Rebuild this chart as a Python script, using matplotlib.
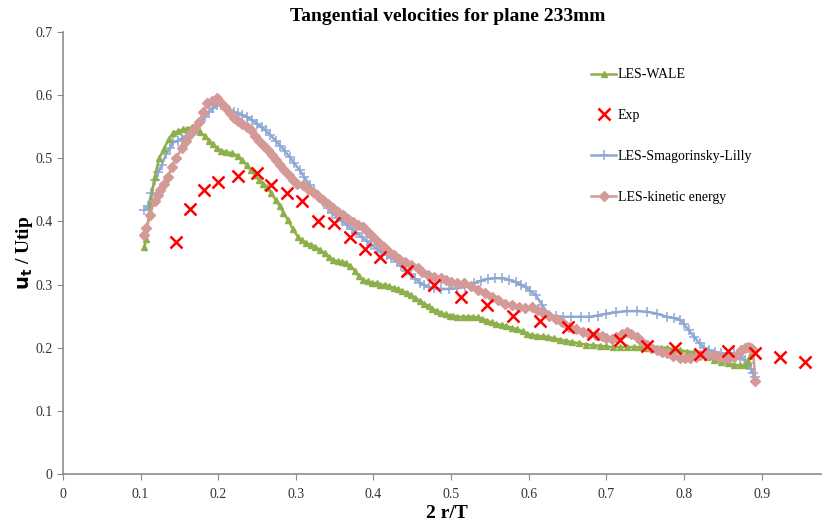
import matplotlib
matplotlib.use("Agg")
import matplotlib.pyplot as plt

plt.rcParams['font.family'] = ['Liberation Serif', 'DejaVu Serif']

# LES-WALE
wale_x = [0.105, 0.107, 0.113, 0.118, 0.124, 0.13, 0.136, 0.142, 0.148, 0.155, 0.16, 0.166,
          0.172, 0.177, 0.183, 0.188, 0.193, 0.198, 0.204, 0.21, 0.218, 0.225, 0.231, 0.237,
          0.242, 0.248, 0.253, 0.258, 0.263, 0.268, 0.274, 0.279, 0.284, 0.29, 0.296, 0.303,
          0.308, 0.313, 0.319, 0.325, 0.331, 0.337, 0.343, 0.348, 0.354, 0.36, 0.365, 0.37,
          0.376, 0.381, 0.387, 0.393, 0.398, 0.404, 0.409, 0.415, 0.42, 0.426, 0.431, 0.437,
          0.443, 0.448, 0.454, 0.46, 0.465, 0.471, 0.476, 0.482, 0.487, 0.493, 0.498, 0.503,
          0.508, 0.515, 0.522, 0.528, 0.534, 0.54, 0.546, 0.552, 0.558, 0.565, 0.571, 0.578,
          0.585, 0.592, 0.598, 0.604, 0.611, 0.618, 0.625, 0.632, 0.64, 0.648, 0.656, 0.665,
          0.674, 0.683, 0.692, 0.7, 0.709, 0.718, 0.726, 0.735, 0.743, 0.752, 0.761, 0.77,
          0.778, 0.786, 0.795, 0.804, 0.813, 0.822, 0.83, 0.839, 0.847, 0.856, 0.865, 0.872,
          0.878, 0.882, 0.885, 0.889]
wale_y = [0.36, 0.372, 0.43, 0.47, 0.5, 0.515, 0.53, 0.54, 0.543, 0.546, 0.547, 0.549,
          0.546, 0.541, 0.535, 0.528, 0.522, 0.516, 0.512, 0.51, 0.508, 0.504, 0.497, 0.489,
          0.481, 0.473, 0.465, 0.46, 0.454, 0.445, 0.434, 0.425, 0.414, 0.402, 0.388, 0.375,
          0.37, 0.366, 0.363, 0.36, 0.355, 0.35, 0.344, 0.339, 0.337, 0.336, 0.334, 0.33,
          0.322, 0.313, 0.307, 0.305, 0.303, 0.302, 0.3, 0.299, 0.297, 0.295, 0.293, 0.29,
          0.287, 0.283, 0.279, 0.274, 0.27, 0.266, 0.262, 0.258, 0.255, 0.253, 0.251, 0.25,
          0.249, 0.249, 0.249, 0.249, 0.248, 0.246, 0.243, 0.24, 0.238, 0.236, 0.234, 0.232,
          0.229, 0.226, 0.222, 0.22, 0.219, 0.218, 0.217, 0.215, 0.213, 0.211, 0.209, 0.207,
          0.205, 0.204, 0.203, 0.202, 0.201, 0.201, 0.201, 0.201, 0.201, 0.2, 0.2, 0.2,
          0.2, 0.198, 0.196, 0.194, 0.193, 0.19, 0.185, 0.18, 0.177, 0.175, 0.173, 0.172,
          0.172, 0.178, 0.187, 0.2]

# Experiment
exp_x = [0.145, 0.163, 0.182, 0.2, 0.225, 0.25, 0.268, 0.288, 0.308, 0.329, 0.349, 0.37,
         0.389, 0.409, 0.443, 0.478, 0.513, 0.546, 0.58, 0.615, 0.65, 0.683, 0.718, 0.752,
         0.788, 0.821, 0.856, 0.891, 0.924, 0.956]
exp_y = [0.368, 0.42, 0.45, 0.463, 0.472, 0.477, 0.458, 0.445, 0.433, 0.401, 0.397, 0.375,
         0.356, 0.344, 0.321, 0.299, 0.28, 0.267, 0.25, 0.242, 0.233, 0.221, 0.212, 0.202,
         0.199, 0.19, 0.195, 0.191, 0.186, 0.178]

# LES-Smagorinsky-Lilly
smag_x = [0.105, 0.11, 0.114, 0.118, 0.123, 0.127, 0.133, 0.138, 0.142, 0.148, 0.153, 0.159,
          0.166, 0.171, 0.177, 0.183, 0.188, 0.193, 0.198, 0.204, 0.209, 0.214, 0.22, 0.225,
          0.231, 0.237, 0.244, 0.25, 0.256, 0.261, 0.267, 0.274, 0.28, 0.286, 0.292, 0.298,
          0.305, 0.311, 0.318, 0.324, 0.33, 0.335, 0.341, 0.347, 0.353, 0.36, 0.366, 0.372,
          0.378, 0.385, 0.391, 0.397, 0.404, 0.41, 0.417, 0.423, 0.43, 0.436, 0.442, 0.448,
          0.454, 0.46, 0.465, 0.471, 0.478, 0.487, 0.497, 0.508, 0.518, 0.53, 0.538, 0.547,
          0.556, 0.565, 0.574, 0.583, 0.59, 0.596, 0.602, 0.609, 0.617, 0.626, 0.635, 0.644,
          0.655, 0.667, 0.678, 0.689, 0.7, 0.713, 0.726, 0.739, 0.752, 0.765, 0.778, 0.787,
          0.795, 0.8, 0.806, 0.813, 0.82, 0.826, 0.832, 0.84, 0.847, 0.856, 0.865, 0.872,
          0.878, 0.882, 0.886, 0.889, 0.892]
smag_y = [0.418, 0.425, 0.445, 0.465, 0.478, 0.489, 0.507, 0.517, 0.525, 0.528, 0.531, 0.535,
          0.539, 0.547, 0.557, 0.565, 0.573, 0.579, 0.584, 0.584, 0.581, 0.576, 0.573, 0.571,
          0.568, 0.565, 0.56, 0.555, 0.549, 0.544, 0.537, 0.528, 0.52, 0.511, 0.502, 0.492,
          0.481, 0.47, 0.457, 0.448, 0.439, 0.43, 0.421, 0.413, 0.406, 0.4, 0.394, 0.388,
          0.382, 0.375, 0.369, 0.363, 0.357, 0.352, 0.347, 0.342, 0.336, 0.329, 0.322, 0.316,
          0.309, 0.303, 0.299, 0.296, 0.294, 0.293, 0.293, 0.294, 0.296, 0.302, 0.306, 0.309,
          0.31, 0.31, 0.308, 0.304, 0.3, 0.296, 0.29, 0.283, 0.268, 0.252, 0.25, 0.249,
          0.249, 0.249, 0.249, 0.251, 0.254, 0.256, 0.258, 0.258, 0.257, 0.254, 0.249, 0.247,
          0.244, 0.237, 0.228, 0.217, 0.207, 0.2, 0.196, 0.193, 0.191, 0.19, 0.191, 0.186,
          0.18, 0.175, 0.167, 0.16, 0.153]

# LES-kinetic energy
ke_x = [0.105, 0.107, 0.112, 0.118, 0.122, 0.125, 0.13, 0.135, 0.14, 0.146, 0.153, 0.158,
        0.164, 0.17, 0.175, 0.181, 0.186, 0.192, 0.198, 0.204, 0.209, 0.215, 0.22, 0.226,
        0.231, 0.237, 0.242, 0.248, 0.253, 0.259, 0.264, 0.269, 0.274, 0.28, 0.285, 0.291,
        0.296, 0.302, 0.309, 0.315, 0.322, 0.328, 0.335, 0.341, 0.348, 0.354, 0.361, 0.367,
        0.374, 0.38, 0.387, 0.393, 0.4, 0.406, 0.413, 0.419, 0.426, 0.433, 0.44, 0.448,
        0.457, 0.463, 0.47, 0.478, 0.487, 0.493, 0.5, 0.508, 0.517, 0.525, 0.534, 0.543,
        0.552, 0.561, 0.57, 0.578, 0.587, 0.595, 0.604, 0.61, 0.617, 0.626, 0.635, 0.643,
        0.652, 0.661, 0.67, 0.678, 0.687, 0.694, 0.7, 0.707, 0.713, 0.72, 0.726, 0.732,
        0.739, 0.745, 0.752, 0.758, 0.765, 0.771, 0.778, 0.786, 0.795, 0.801, 0.808, 0.815,
        0.821, 0.83, 0.839, 0.845, 0.852, 0.858, 0.865, 0.869, 0.873, 0.878, 0.882, 0.886,
        0.889, 0.892]
ke_y = [0.378, 0.39, 0.41, 0.433, 0.442, 0.449, 0.46, 0.47, 0.486, 0.5, 0.517, 0.528,
        0.539, 0.548, 0.557, 0.573, 0.587, 0.591, 0.595, 0.588, 0.581, 0.572, 0.563, 0.559,
        0.555, 0.55, 0.544, 0.536, 0.528, 0.52, 0.513, 0.505, 0.497, 0.489, 0.481, 0.473,
        0.466, 0.46, 0.457, 0.452, 0.446, 0.44, 0.434, 0.427, 0.421, 0.415, 0.41, 0.404,
        0.399, 0.395, 0.391, 0.384, 0.376, 0.367, 0.359, 0.353, 0.347, 0.341, 0.336, 0.331,
        0.326, 0.32, 0.315, 0.312, 0.31, 0.307, 0.304, 0.303, 0.302, 0.297, 0.291, 0.286,
        0.28, 0.275, 0.27, 0.267, 0.264, 0.263, 0.264, 0.26, 0.257, 0.251, 0.246, 0.24,
        0.233, 0.229, 0.225, 0.222, 0.22, 0.218, 0.215, 0.214, 0.217, 0.221, 0.225, 0.222,
        0.217, 0.211, 0.204, 0.2, 0.196, 0.193, 0.191, 0.187, 0.184, 0.184, 0.184, 0.186,
        0.188, 0.188, 0.188, 0.186, 0.184, 0.183, 0.185, 0.19, 0.196, 0.2, 0.201, 0.199,
        0.196, 0.147]

green = '#8DB04A'
blue = '#8EA8D6'
pink = '#D49A98'

fig = plt.figure(figsize=(8.22, 5.24), dpi=100)
ax = fig.add_axes([0.0766, 0.0954, 0.935, 0.8436])

ax.plot(wale_x, wale_y, color=green, lw=1.8, marker='^', ms=5, mec=green, mfc=green,
        label='LES-WALE', zorder=3)
ax.plot(exp_x, exp_y, ls='none', marker='x', ms=9, mew=1.8, color='#FF0000',
        label='Exp', zorder=5)
ax.plot(smag_x, smag_y, color=blue, lw=1.8, marker='+', ms=7, mew=1.1,
        label='LES-Smagorinsky-Lilly', zorder=2)
ax.plot(ke_x, ke_y, color=pink, lw=1.8, marker='D', ms=5, mec=pink, mfc=pink,
        label='LES-kinetic energy', zorder=4)

ax.set_xlim(0, 0.99)
ax.set_ylim(0, 0.7)
ax.set_xticks([0, 0.1, 0.2, 0.3, 0.4, 0.5, 0.6, 0.7, 0.8, 0.9])
ax.set_xticklabels(['0', '0.1', '0.2', '0.3', '0.4', '0.5', '0.6', '0.7', '0.8', '0.9'])
ax.set_yticks([0, 0.1, 0.2, 0.3, 0.4, 0.5, 0.6, 0.7])
ax.set_yticklabels(['0', '0.1', '0.2', '0.3', '0.4', '0.5', '0.6', '0.7'])

for s in ['top', 'right']:
    ax.spines[s].set_visible(False)
for s in ['left', 'bottom']:
    ax.spines[s].set_color('#8C8C8C')
    ax.spines[s].set_linewidth(1.2)
ax.tick_params(axis='both', colors='#8C8C8C', labelcolor='#333333', labelsize=10,
               length=4, direction='out')
ax.tick_params(axis='x', pad=6)

ax.set_title('Tangential velocities for plane 233mm', fontsize=14, fontweight='bold', pad=8)
ax.set_xlabel('2 r/T', fontsize=14, fontweight='bold', labelpad=3)
ax.set_ylabel(r'$\mathbf{u_t}$ / Utip', fontsize=14, fontweight='bold', labelpad=0)

leg = ax.legend(loc='upper left', bbox_to_anchor=(0.68, 0.93), frameon=False, fontsize=10,
                labelspacing=2.0, handlelength=1.8, handletextpad=0.1, borderaxespad=0)

fig.savefig('out.png', dpi=100)
